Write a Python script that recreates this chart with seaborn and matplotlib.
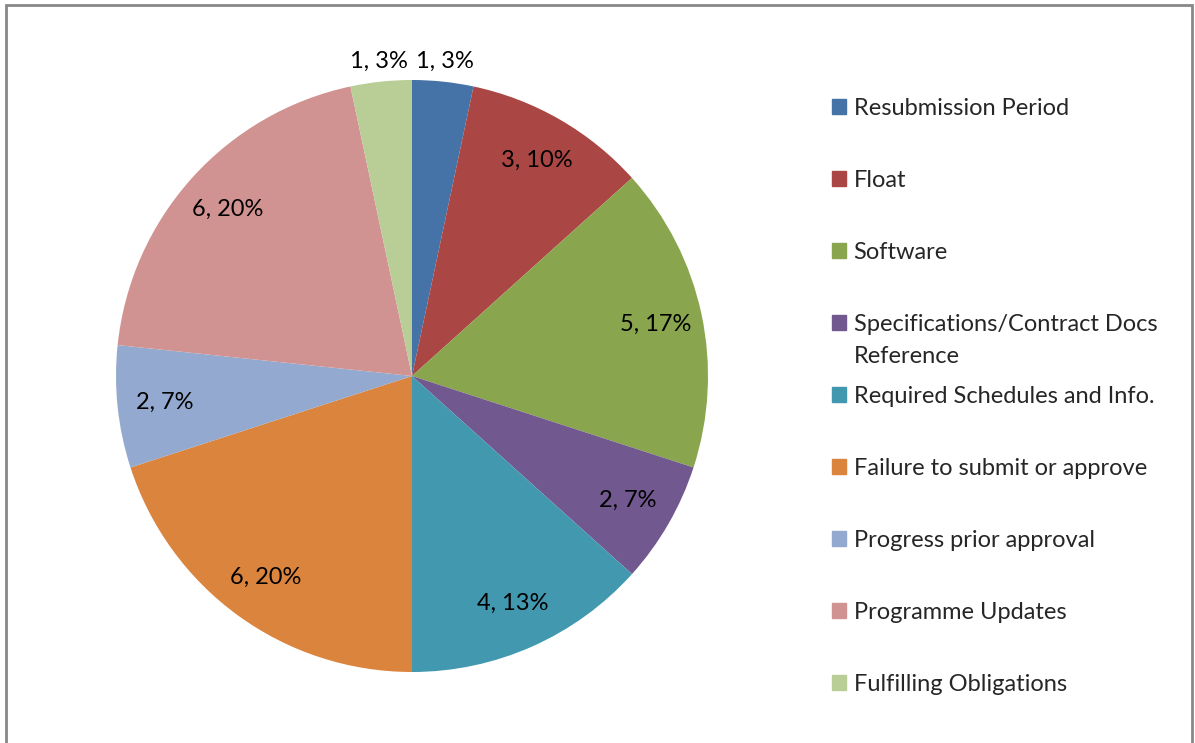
import numpy as np
import matplotlib
matplotlib.use("Agg")
import matplotlib.pyplot as plt
import matplotlib.patches as mpatches
import seaborn as sns

sns.set_style('white')
plt.rcParams['font.family'] = ['Lato', 'DejaVu Sans']

# data
categories = ['Resubmission Period', 'Float', 'Software',
              'Specifications/Contract Docs', 'Required Schedules and Info.',
              'Failure to submit or approve', 'Progress prior approval',
              'Programme Updates', 'Fulfilling Obligations']
counts = [1, 3, 5, 2, 4, 6, 2, 6, 1]
colors = ['#4572A7', '#AA4643', '#89A54E', '#71588F', '#4198AF',
          '#DB843D', '#93A9CF', '#D19392', '#B9CD96']

W, H = 1195, 743
fig = plt.figure(figsize=(W / 100, H / 100), dpi=100)

# chart frame
frame = mpatches.Rectangle((5.5 / W, -0.01), (1192 - 5.5) / W, (H - 5.5) / H + 0.01,
                           transform=fig.transFigure, fill=False,
                           edgecolor='#888888', linewidth=2)
fig.patches.append(frame)

cx, cy, r = 412, 376, 296
ax = fig.add_axes([(cx - r) / W, (H - cy - r) / H, 2 * r / W, 2 * r / H])
wedges, _ = ax.pie(counts, colors=colors, startangle=90, counterclock=False,
                   radius=1, wedgeprops=dict(linewidth=0))
ax.set_xlim(-1, 1)
ax.set_ylim(-1, 1)
ax.set_aspect('equal')
ax.axis('off')

total = sum(counts)
for w, c in zip(wedges, counts):
    pct = c / total * 100
    ang = np.deg2rad((w.theta1 + w.theta2) / 2)
    d = 1.07 if pct < 5 else 0.84
    ax.text(d * np.cos(ang), d * np.sin(ang), f'{c}, {pct:.0f}%',
            ha='center', va='center', fontsize=17, color='black')

handles = [mpatches.Patch(color=col) for col in colors]
leg = fig.legend(handles, categories, loc='upper left',
                 bbox_to_anchor=(811 / W, 1 - 77 / H), frameon=False,
                 fontsize=17, handlelength=0.6, handleheight=0.6,
                 handletextpad=0.3, labelspacing=2.16)

# second line of the wrapped legend entry
fig.canvas.draw()
t = leg.get_texts()[3]
bb = t.get_window_extent().transformed(fig.transFigure.inverted())
fig.text(bb.x0, bb.y0 - 32 / H, 'Reference', fontsize=17, ha='left', va='bottom')

fig.savefig('out.png', dpi=100, facecolor='white')
